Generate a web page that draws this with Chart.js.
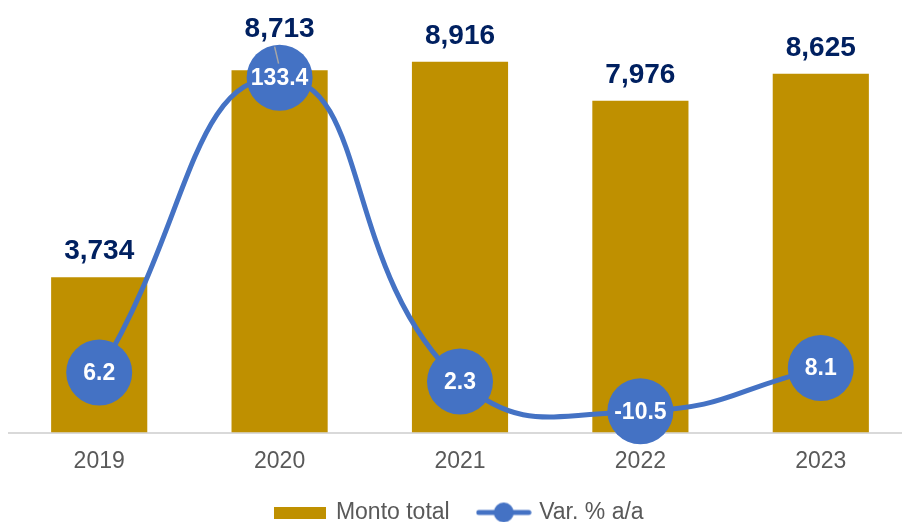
<!DOCTYPE html>
<html>
<head>
<meta charset="utf-8">
<script src="https://cdn.jsdelivr.net/npm/chart.js@4.4.0/dist/chart.umd.min.js"></script>
<style>
  html, body { margin: 0; padding: 0; background: #fff; overflow: hidden; }
  #montos { display: block; }
</style>
</head>
<body>
<!-- canvas a bit larger than the window: the plot runs off the right edge like the original -->
<canvas id="montos" width="911" height="534"></canvas>
<script>
const years = ['2019', '2020', '2021', '2022', '2023']
const montoTotal = [3734, 8713, 8916, 7976, 8625]
const varAnual = [6.2, 133.4, 2.3, -10.5, 8.1]

const GOLD = '#BF9000'
const BLUE = '#4472C4'
const NAVY = '#002060'
const GREY = '#595959'
const FONT = '"Liberation Sans", Arial, sans-serif'
const dotRadius = 33

// little canvases used as legend symbols
function legendIcon(w, h, draw) {
  const c = document.createElement('canvas')
  c.width = w
  c.height = h
  draw(c.getContext('2d'), w, h)
  return c
}
const barIcon = legendIcon(52, 12, (g, w, h) => {
  g.fillStyle = GOLD
  g.fillRect(0, 0, w, h)
})
const lineIcon = legendIcon(56, 22, (g, w, h) => {
  g.strokeStyle = BLUE
  g.lineWidth = 5
  g.lineCap = 'round'
  g.beginPath()
  g.moveTo(3, h / 2)
  g.lineTo(w - 3, h / 2)
  g.stroke()
  g.fillStyle = BLUE
  g.beginPath()
  g.arc(w / 2, h / 2, 10, 0, Math.PI * 2)
  g.fill()
})

// draws the amounts over the bars and the % inside the circles
const valueLabels = {
  id: 'valueLabels',
  afterDatasetsDraw(chart) {
    const ctx = chart.ctx
    const bars = chart.getDatasetMeta(0).data
    const dots = chart.getDatasetMeta(1).data
    ctx.save()
    ctx.textAlign = 'center'
    ctx.textBaseline = 'alphabetic'
    ctx.font = 'bold 28px ' + FONT
    bars.forEach((bar, i) => {
      let y = bar.y - 18
      const dot = dots[i]
      // circle sits where the label should go -> push label up, add a leader line
      if (dot.y - dotRadius < y && dot.y + dotRadius > y - 22) {
        y = dot.y - dotRadius - 8
        ctx.strokeStyle = '#A6A6A6'
        ctx.lineWidth = 1.5
        ctx.beginPath()
        ctx.moveTo(bar.x - 5, y + 10)
        ctx.lineTo(bar.x - 1, y + 27)
        ctx.stroke()
      }
      ctx.fillStyle = NAVY
      ctx.fillText(montoTotal[i].toLocaleString('en-US'), bar.x, y)
    })
    ctx.font = 'bold 23px ' + FONT
    ctx.fillStyle = '#FFFFFF'
    ctx.textBaseline = 'middle'
    dots.forEach((d, i) => {
      ctx.fillText(varAnual[i].toFixed(1), d.x, d.y + 1)
    })
    ctx.restore()
  }
}

const ctx = document.getElementById('montos').getContext('2d')

new Chart(ctx, {
  type: 'bar',
  data: {
    labels: years,
    datasets: [{
      type: 'bar',
      label: 'Monto total',
      data: montoTotal,
      backgroundColor: GOLD,
      yAxisID: 'y',
      order: 2,
      categoryPercentage: 1,
      barPercentage: 0.533
    }, {
      type: 'line',
      label: 'Var. % a/a',
      data: varAnual,
      borderColor: BLUE,
      borderWidth: 5,
      backgroundColor: BLUE,
      pointRadius: dotRadius,
      pointBorderWidth: 0,
      pointBackgroundColor: BLUE,
      tension: 0.5,
      clip: false,
      yAxisID: 'y2',
      order: 1
    }]
  },
  options: {
    responsive: false,
    animation: false,
    layout: {
      autoPadding: false,
      padding: { left: 9, right: 0, top: 0, bottom: 0 }
    },
    plugins: {
      tooltip: { enabled: false },
      legend: {
        position: 'bottom',
        labels: {
          usePointStyle: true,
          pointStyleWidth: 48,
          padding: 30,
          color: GREY,
          font: { family: FONT, size: 23 },
          generateLabels: function(chart) {
            const items = Chart.defaults.plugins.legend.labels.generateLabels(chart)
            items.forEach(it => {
              it.pointStyle = it.datasetIndex === 0 ? barIcon : lineIcon
            })
            return items.sort((a, b) => a.datasetIndex - b.datasetIndex)
          }
        }
      }
    },
    scales: {
      x: {
        grid: { display: false, drawTicks: false },
        border: { display: true, color: '#D9D9D9', width: 2 },
        ticks: { color: GREY, padding: 15, font: { family: FONT, size: 23 } },
        afterFit: function(scale) {
          // keep the legend close under the year labels
          scale.height = 38.5
        }
      },
      y: { display: false, min: 0, max: 10400 },
      y2: { display: false, min: -19.7, max: 166.9 }
    }
  },
  plugins: [valueLabels]
})
</script>
</body>
</html>
